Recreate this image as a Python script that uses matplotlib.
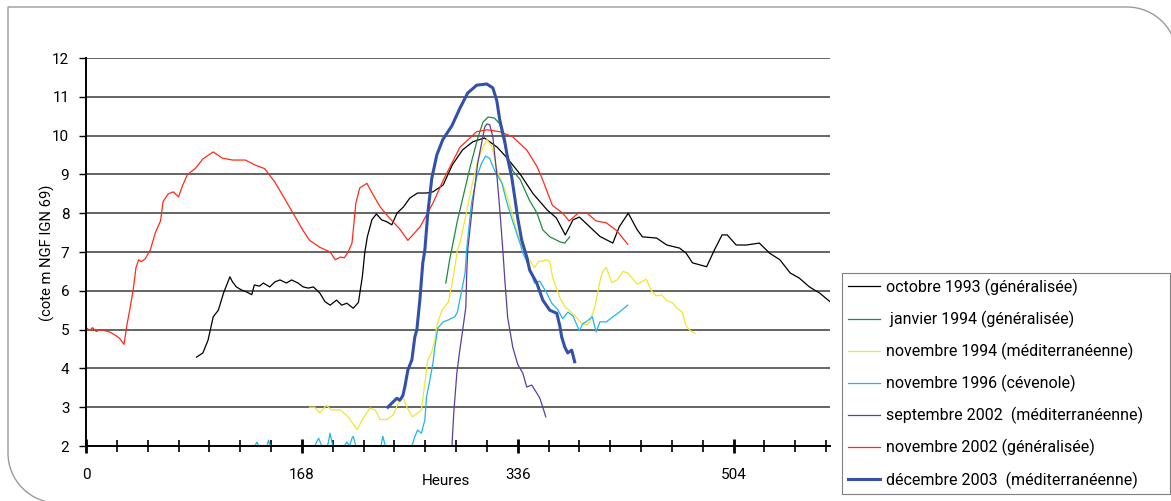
import matplotlib
matplotlib.use("Agg")
import matplotlib.pyplot as plt
from matplotlib.path import Path
from matplotlib.patches import PathPatch
import numpy as np

plt.rcParams['font.family'] = ['Roboto', 'DejaVu Sans']

# ---------------- data (hours, water level m NGF) ----------------
oct1993_h = [86, 91, 95, 99, 103, 107, 112, 114, 117, 121, 125, 129, 131, 135, 138, 143, 147, 151, 156, 160,
             165, 169, 173, 177, 182, 186, 190, 195, 199, 203, 208, 212, 215, 217, 219, 222.5, 226, 230, 234, 238,
             242, 247, 252, 258, 265, 270, 278, 285, 293, 301, 310, 320, 327, 338, 348, 359, 366, 373, 379, 384,
             392, 400, 410, 415, 422, 429, 433, 444, 452, 462, 467, 472, 483, 489, 495, 499, 506, 514, 524, 532,
             540, 548, 555, 563, 571, 579]
oct1993_v = [4.29, 4.4, 4.73, 5.33, 5.5, 5.94, 6.36, 6.23, 6.1, 6.02, 5.97, 5.9, 6.15, 6.12, 6.2, 6.1, 6.23, 6.28, 6.2, 6.28,
             6.2, 6.1, 6.07, 6.1, 5.94, 5.72, 5.63, 5.76, 5.63, 5.68, 5.55, 5.7, 6.35, 7.0, 7.4, 7.83, 7.98, 7.83, 7.78, 7.7,
             8.0, 8.16, 8.39, 8.52, 8.52, 8.55, 8.73, 9.24, 9.63, 9.84, 9.94, 9.7, 9.45, 9.0, 8.5, 8.08, 7.88, 7.44, 7.83, 7.9,
             7.65, 7.4, 7.23, 7.65, 8.0, 7.57, 7.39, 7.36, 7.18, 7.1, 6.97, 6.72, 6.62, 7.05, 7.44, 7.44, 7.18, 7.18, 7.23, 6.97,
             6.8, 6.46, 6.33, 6.1, 5.94, 5.72]

jan1994_h = [280, 283, 289, 294, 299, 305, 309, 313, 318, 322, 327, 332, 338, 345, 351, 355.5, 361, 369, 372.6, 376.4]
jan1994_v = [6.2, 6.8, 7.8, 8.5, 9.2, 9.95, 10.35, 10.48, 10.45, 10.3, 9.6, 9.1, 8.86, 8.34, 8.0, 7.57, 7.39, 7.26, 7.23, 7.39]

nov1994_h = [174, 178, 182, 187, 191, 198, 204, 211, 215, 221, 225, 229, 234, 239, 244, 247, 250, 254, 258, 261,
             264, 266, 269, 271.5, 273, 277, 282, 285, 287, 289, 291, 296, 300, 305, 309, 312, 316, 320, 326, 331,
             335, 338, 345, 349, 352, 359, 361, 363, 369, 373, 376, 382, 386, 390, 392, 396, 400, 402, 405, 409,
             413, 418, 422, 429, 436, 440, 444, 448, 452, 456, 460, 464, 467, 470, 474]
nov1994_v = [3.0, 3.0, 2.85, 3.05, 2.93, 2.93, 2.75, 2.42, 2.68, 2.98, 2.93, 2.68, 2.68, 2.8, 3.18, 3.23, 2.98, 2.75, 2.85, 2.93,
             3.7, 4.22, 4.42, 4.73, 5.1, 5.5, 5.71, 6.2, 6.6, 7.05, 7.23, 8.0, 8.67, 9.37, 9.7, 9.9, 9.7, 9.1, 8.6, 8.08,
             7.57, 7.23, 6.8, 6.6, 6.75, 6.8, 6.75, 6.36, 5.8, 5.58, 5.5, 5.3, 5.15, 5.12, 5.2, 5.58, 6.25, 6.5, 6.6, 6.22,
             6.27, 6.5, 6.45, 6.17, 6.3, 6.0, 5.87, 5.9, 5.75, 5.7, 5.55, 5.45, 5.1, 4.98, 4.9]

nov1996_h = [129, 131.5, 133, 134.5, 136, 139, 141, 142, 143.5, 146, 176, 178, 181, 183.5, 186, 188, 190, 192, 194, 199,
             201, 203, 205, 207, 208, 210, 212, 228, 229.5, 231, 233, 235, 251, 253.6, 256, 258, 261, 263.7, 265, 267.6,
             270, 271.5, 273.8, 278, 282, 287, 289, 292, 295, 296.3, 300, 304, 308, 311, 314, 318, 323.6, 327, 331, 335,
             338, 340, 345, 349, 353, 358.6, 362.5, 367, 371, 375, 379, 384, 386.6, 390, 394, 397, 400, 405, 410, 415,
             421.6]
nov1996_v = [1.6, 2.0, 2.1, 2.0, 1.6, 1.6, 2.0, 2.15, 2.0, 1.6, 1.6, 2.0, 2.2, 2.0, 1.6, 2.0, 2.33, 2.0, 1.6, 1.7,
             2.0, 2.1, 2.0, 2.2, 2.25, 2.0, 1.6, 1.6, 2.0, 2.25, 2.0, 1.6, 1.6, 2.0, 2.25, 2.41, 2.33, 2.67, 3.26, 3.7,
             4.14, 4.55, 5.04, 5.2, 5.25, 5.33, 5.45, 5.94, 6.46, 7.1, 8.26, 8.93, 9.3, 9.47, 9.42, 9.1, 8.78, 8.34, 7.9, 7.5,
             7.2, 6.97, 6.62, 6.2, 6.25, 5.94, 5.68, 5.52, 5.28, 5.45, 5.35, 4.97, 5.15, 5.22, 5.33, 4.94, 5.2, 5.2, 5.33, 5.45,
             5.63]

sep2002_h = [284.7, 286.2, 288.6, 290.9, 293.2, 295.6, 296.3, 297.1, 301, 304.9, 308.8, 310.3, 311.9, 314.2, 316.6,
             319.7, 322, 323.6, 324.5, 325.9, 328.2, 332.1, 336, 339.9, 343, 346.9, 349.2, 353.1, 355.5, 357.8]
sep2002_v = [1.95, 2.85, 3.88, 4.47, 5.0, 5.58, 6.46, 7.05, 8.26, 9.3, 9.97, 10.22, 10.3, 10.28, 9.97,
             9.0, 8.1, 7.4, 7.0, 6.3, 5.3, 4.55, 4.1, 3.88, 3.52, 3.57, 3.45, 3.24, 3.0, 2.75]

nov2002_h = [0, 3, 5, 8, 11, 15, 19, 23, 26, 29.6, 32, 34, 36.6, 38.9, 41, 43, 46, 50, 54, 58,
             60, 64, 68, 72, 75, 79, 85, 91, 99, 106, 114, 124, 131, 139, 147, 155, 162, 169, 174, 182,
             190, 194, 198, 201, 204, 207, 210, 213, 218.6, 223, 229, 236, 244, 250.5, 260, 270, 278, 291, 304, 312,
             322, 332, 343, 351, 355.5, 363, 371, 376, 383, 390, 397, 405, 413, 421.6]
nov2002_v = [5.05, 4.98, 5.05, 4.95, 5.0, 4.97, 4.93, 4.85, 4.78, 4.62, 5.15, 5.5, 6.0, 6.6, 6.8, 6.75, 6.82, 7.05, 7.5, 7.8,
             8.3, 8.5, 8.55, 8.42, 8.7, 9.0, 9.15, 9.4, 9.58, 9.42, 9.37, 9.37, 9.25, 9.15, 8.8, 8.35, 7.95, 7.55, 7.3, 7.12,
             7.0, 6.8, 6.87, 6.85, 7.0, 7.23, 8.26, 8.65, 8.77, 8.5, 8.16, 7.88, 7.6, 7.3, 7.65, 8.26, 8.85, 9.7, 10.1, 10.15,
             10.1, 9.97, 9.63, 9.2, 8.85, 8.2, 8.0, 7.8, 8.0, 8.0, 7.8, 7.75, 7.55, 7.2]

dec2003_h = [234.9, 238.8, 241.9, 244.2, 246.6, 248.1, 250.5, 253.6, 255.9, 257.5, 259.8, 262.1, 263.7, 266, 269.1,
             273, 277.7, 284.7, 290.9, 297.1, 304.1, 311.9, 316.6, 319.7, 322, 325.9, 328.2, 331.3, 333.7, 336,
             339.1, 343, 345.3, 350.8, 355.5, 360.9, 366.4, 368.7, 370.2, 372.6, 374.9, 378, 380.3]
dec2003_v = [3.0, 3.13, 3.23, 3.18, 3.3, 3.52, 3.96, 4.22, 4.81, 5.0, 5.76, 6.72, 7.05, 8.0, 8.9,
             9.5, 9.9, 10.25, 10.7, 11.1, 11.3, 11.33, 11.23, 10.9, 10.4, 9.85, 9.4, 8.93, 8.4, 7.87,
             7.3, 6.87, 6.53, 6.2, 5.76, 5.5, 5.42, 5.1, 4.81, 4.55, 4.4, 4.47, 4.17]

labels = ["octobre 1993 (généralisée)", " janvier 1994 (généralisée)", "novembre 1994 (méditerranéenne)",
          "novembre 1996 (cévenole)", "septembre 2002  (méditerranéenne)", "novembre 2002 (généralisée)",
          "décembre 2003  (méditerranéenne)"]
x_major = [0, 168, 336, 504]
y_ticks = list(range(2, 13))

# ---------------- figure ----------------
W, H = 1171, 501
fig = plt.figure(figsize=(W / 100, H / 100), dpi=100)

# background frame (pixel coordinates)
bg = fig.add_axes([0, 0, 1, 1], zorder=0)
bg.set_xlim(0, W)
bg.set_ylim(H, 0)
bg.axis('off')
r = 50
k = 0.5523 * r
L, T, R, B = 8, 7, 1177, 503
verts = [(R, B + 40), (R, T + r),
         (R, T + r - k), (R - r + k, T), (R - r, T),
         (L, T), (L, B - r),
         (L, B - r + k), (L + r - k, B), (L + r, B),
         (R, B + 40)]
codes = [Path.MOVETO, Path.LINETO,
         Path.CURVE4, Path.CURVE4, Path.CURVE4,
         Path.LINETO, Path.LINETO,
         Path.CURVE4, Path.CURVE4, Path.CURVE4,
         Path.LINETO]
bg.add_patch(PathPatch(Path(verts, codes), facecolor='none', edgecolor='#9a9a9a', lw=1.0))

ax = fig.add_axes([86 / W, 1 - 446 / H, (830 - 86) / W, (446 - 58) / H], zorder=1)
ax.patch.set_alpha(0)

series = [
    (oct1993_h, oct1993_v, '#000000', 0.9),
    (jan1994_h, jan1994_v, '#1e8a3c', 0.9),
    (nov1994_h, nov1994_v, '#f0e630', 0.9),
    (nov1996_h, nov1996_v, '#1eb6ea', 0.9),
    (sep2002_h, sep2002_v, '#5a3e9e', 0.9),
    (nov2002_h, nov2002_v, '#ff2a1a', 0.9),
    (dec2003_h, dec2003_v, '#3450a8', 2.2),
]
handles = []
for (hx, vy, c, lw), lab in zip(series, labels):
    ln, = ax.plot(hx, vy, color=c, lw=lw, label=lab, solid_joinstyle='round')
    handles.append(ln)

ax.set_xlim(0, 579)
ax.set_ylim(2, 12)
for yv in y_ticks[1:]:
    ax.axhline(yv, color='#4a4a4a', lw=1.2, zorder=0.5)

for s in ['top', 'right']:
    ax.spines[s].set_visible(False)
ax.spines['left'].set_linewidth(1.4)
ax.spines['bottom'].set_linewidth(1.4)

ax.set_yticks(y_ticks)
ax.tick_params(axis='y', direction='out', length=5, width=1, pad=7, labelsize=11)
ax.set_xticks(x_major)
ax.set_xticks(np.arange(0, 579, 24), minor=True)
ax.tick_params(axis='x', which='major', direction='inout', length=10, width=2, pad=11, labelsize=11)
ax.tick_params(axis='x', which='minor', direction='inout', length=8, width=1.2)

fig.text(446 / W, 1 - 481 / H, 'Heures', ha='center', va='center', fontsize=11)
fig.text(47 / W, 1 - 253 / H, '(cote m NGF IGN 69)', ha='center', va='center', rotation=90, fontsize=10.6)

leg = fig.legend(handles=handles, loc='upper left',
                 bbox_to_anchor=(842 / W, 1 - 273 / H - 0.01, (1170 - 842) / W, 0.01),
                 mode='expand', fontsize=11.5, frameon=True, fancybox=False,
                 edgecolor='#808080', framealpha=1, handlelength=2.0, handletextpad=0.4,
                 labelspacing=0.93, borderpad=0.35, borderaxespad=0)
leg.get_frame().set_linewidth(0.8)

fig.savefig('out.png', dpi=100)
